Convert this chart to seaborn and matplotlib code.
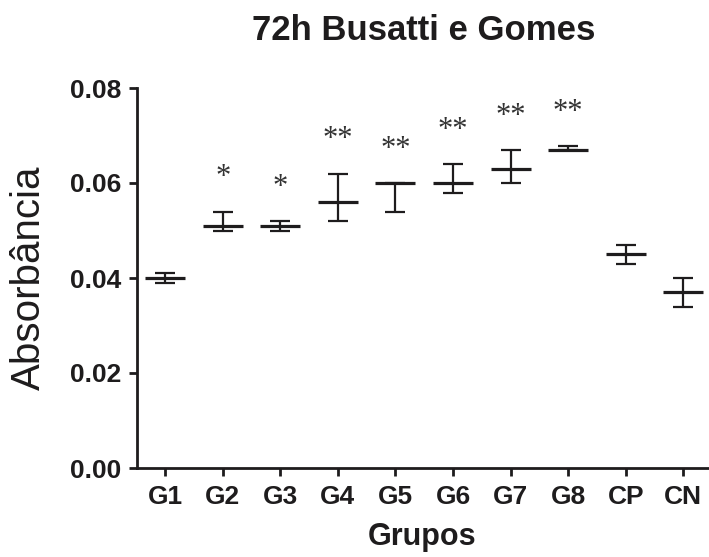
import matplotlib
matplotlib.use("Agg")
import matplotlib.pyplot as plt
import numpy as np
import pandas as pd
import seaborn as sns

groups = ["G1", "G2", "G3", "G4", "G5", "G6", "G7", "G8", "CP", "CN"]
mean_abs = [0.040, 0.051, 0.051, 0.056, 0.060, 0.060, 0.063, 0.067, 0.045, 0.037]
upper_abs = [0.041, 0.054, 0.052, 0.062, 0.060, 0.064, 0.067, 0.0677, 0.047, 0.040]
lower_abs = [0.039, 0.050, 0.050, 0.052, 0.054, 0.058, 0.060, 0.067, 0.043, 0.034]
signif = ["", "*", "*", "**", "**", "**", "**", "**", "", ""]

df = pd.DataFrame({"grupo": groups, "media": mean_abs})
ink = "#1e1c1d"

sns.set_theme(style="ticks")
plt.rcParams["font.family"] = ["Liberation Sans", "DejaVu Sans"]

fig = plt.figure(figsize=(7.09, 5.57), dpi=100)
ax = fig.add_axes([137 / 709, 1 - 468 / 557, (708 - 137) / 709, (468 - 88) / 557])

# mean lines
sns.pointplot(data=df, x="grupo", y="media", order=groups, errorbar=None,
              linestyle="none", marker="_", markersize=29, markeredgewidth=2.3,
              color=ink, ax=ax)

# error bars
x = np.arange(len(groups))
m = np.array(mean_abs)
yerr = [m - np.array(lower_abs), np.array(upper_abs) - m]
ax.errorbar(x, m, yerr=yerr, fmt="none", ecolor=ink, elinewidth=1.6,
            capsize=7, capthick=1.6, zorder=3)

# significance marks
for i, s in enumerate(signif):
    if s:
        ax.text(i, upper_abs[i] + 0.0055, s, ha="center", va="baseline",
                fontsize=22, color="#333333", family=["Liberation Serif"])

ax.set_xlim(-0.49, 9.43)
ax.set_ylim(0, 0.08)
ax.set_yticks([0.0, 0.02, 0.04, 0.06, 0.08])
ax.set_yticklabels(["0.00", "0.02", "0.04", "0.06", "0.08"])

for sp in ["top", "right"]:
    ax.spines[sp].set_visible(False)
for sp in ["left", "bottom"]:
    ax.spines[sp].set_linewidth(2.0)
    ax.spines[sp].set_color(ink)

ax.tick_params(axis="both", width=2.0, length=6, color=ink, labelcolor=ink)
ax.tick_params(axis="y", pad=5)
ax.tick_params(axis="x", pad=6.5)
for lab in ax.get_xticklabels() + ax.get_yticklabels():
    lab.set_fontweight("bold")
    lab.set_fontsize(19)

ax.set_xlabel("Grupos", fontsize=22, fontweight="bold", color=ink)
ax.xaxis.set_label_coords(0.5, -69 / 380)
ax.xaxis.label.set_va("center")
ax.set_ylabel("Absorbância", fontsize=29, color=ink)
ax.yaxis.set_label_coords(-108 / 571, 0.5)
ax.yaxis.label.set_va("center")

fig.text(424 / 709, 1 - 31 / 557, "72h Busatti e Gomes", ha="center", va="center",
         fontsize=25, fontweight="bold", color=ink)

fig.savefig("out.png", dpi=100)
